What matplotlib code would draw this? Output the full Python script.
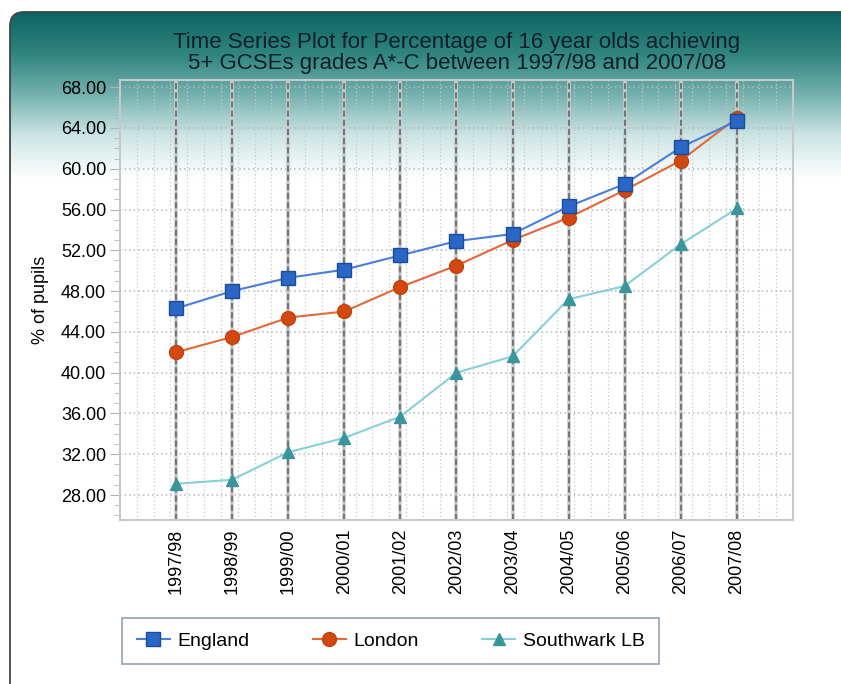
import matplotlib

matplotlib.use("Agg")
import matplotlib.pyplot as plt  # noqa: E402
import numpy as np  # noqa: E402
from matplotlib.patches import FancyBboxPatch  # noqa: E402

plt.rcParams["font.family"] = ["Liberation Sans", "DejaVu Sans"]

# data
years = ["1997/98", "1998/99", "1999/00", "2000/01", "2001/02", "2002/03",
         "2003/04", "2004/05", "2005/06", "2006/07", "2007/08"]
england = [46.3, 48.0, 49.3, 50.1, 51.5, 52.9, 53.6, 56.3, 58.5, 62.1, 64.7]
london = [42.0, 43.5, 45.4, 46.0, 48.4, 50.5, 53.0, 55.2, 57.9, 60.8, 65.0]
southwark = [29.1, 29.5, 32.2, 33.6, 35.7, 40.0, 41.6, 47.2, 48.5, 52.6, 56.1]

W, H = 841, 684
fig = plt.figure(figsize=(W / 100, H / 100), dpi=100)
fig.patch.set_facecolor("white")

# background panel with teal gradient and rounded corner
bg = fig.add_axes([0, 0, 1, 1], zorder=-5)
bg.set_xlim(0, W)
bg.set_ylim(H, 0)
bg.axis("off")
stops_y = [12, 55, 95, 135, 178, 684]
stops_c = np.array([[12, 100, 96], [50, 134, 129], [118, 178, 175],
                    [205, 229, 228], [255, 255, 255], [255, 255, 255]]) / 255
rows = np.arange(12, H)
grad = np.stack([np.interp(rows, stops_y, stops_c[:, i]) for i in range(3)], axis=-1)
grad = np.repeat(grad[:, None, :], 2, axis=1)
panel = FancyBboxPatch((10, 12), 900, 800, boxstyle="round,pad=0,rounding_size=14",
                       facecolor="none", edgecolor="#3c4848", linewidth=1.3)
bg.add_patch(panel)
im = bg.imshow(grad, extent=[10, 900, H, 12], aspect="auto", interpolation="bilinear")
im.set_clip_path(panel)

# main axes
ax = fig.add_axes([120 / W, 1 - 520 / H, 673 / W, 440 / H])
ax.set_facecolor("none")
x = np.arange(len(years))

ax.set_xlim(-1, len(years))
ax.set_ylim(25.55, 68.7)

# grid: dotted minor verticals, dashed category lines, dotted horizontals
for gx in np.arange(-1, len(years), 0.3)[1:]:
    ax.axvline(gx, color="#c4c8c8", linestyle=(0, (1, 2)), linewidth=0.9, zorder=0)
yt = np.arange(28, 69, 4)
for gy in yt:
    ax.axhline(gy, color="#b4b8b8", linestyle=(0, (1, 2)), linewidth=1.1, zorder=0)
for xi in x:
    ax.axvline(xi, color="#c8cccc", linewidth=2.6, zorder=1)
    ax.axvline(xi, color="#5a5e5e", linestyle=(0, (4, 2)), linewidth=1.1, zorder=1)

ax.plot(x, southwark, color="#86d0d6", linewidth=1.5, marker="^", markersize=9,
        markerfacecolor="#3a969c", markeredgecolor="#3a969c", label="Southwark LB", zorder=3)
ax.plot(x, london, color="#e2683a", linewidth=1.5, marker="o", markersize=10,
        markerfacecolor="#d2480e", markeredgecolor="#c04410", label="London", zorder=4)
ax.plot(x, england, color="#4a7ed8", linewidth=1.5, marker="s", markersize=10,
        markerfacecolor="#2a66c6", markeredgecolor="#1a4c98", label="England", zorder=5)

ax.set_xticks(x)
ax.set_xticklabels(years, rotation=90, fontsize=13)
ax.set_yticks(yt)
ax.set_yticklabels([f"{v:.2f}" for v in yt], fontsize=13)
ax.set_yticks(np.arange(26, 69, 1), minor=True)
ax.tick_params(axis="x", length=0, pad=6)
ax.tick_params(axis="y", which="major", length=7, color="#b0b4b4", pad=3)
ax.tick_params(axis="y", which="minor", length=4, color="#b0b4b4")
for s in ax.spines.values():
    s.set_color("#c4caca")
    s.set_linewidth(1.5)

ax.set_ylabel("% of pupils", fontsize=13)
ax.yaxis.set_label_coords(-0.106, 0.5)

fig.text(457 / W, 1 - 53 / H,
         "Time Series Plot for Percentage of 16 year olds achieving\n"
         "5+ GCSEs grades A*-C between 1997/98 and 2007/08",
         ha="center", va="center", fontsize=16, color="#10202a", linespacing=1.0)

handles, labels = ax.get_legend_handles_labels()
order = [2, 1, 0]
leg = fig.legend([handles[i] for i in order], [labels[i] for i in order],
                 ncol=3, loc="center left",
                 bbox_to_anchor=(122 / W, 1 - 641 / H), borderaxespad=0,
                 fontsize=14, frameon=True, fancybox=False, handlelength=1.7,
                 columnspacing=3.25, handletextpad=0.4, borderpad=0.75)
leg.get_frame().set_edgecolor("#7a8a96")
leg.get_frame().set_linewidth(1.2)

fig.savefig("out.png", dpi=100)
